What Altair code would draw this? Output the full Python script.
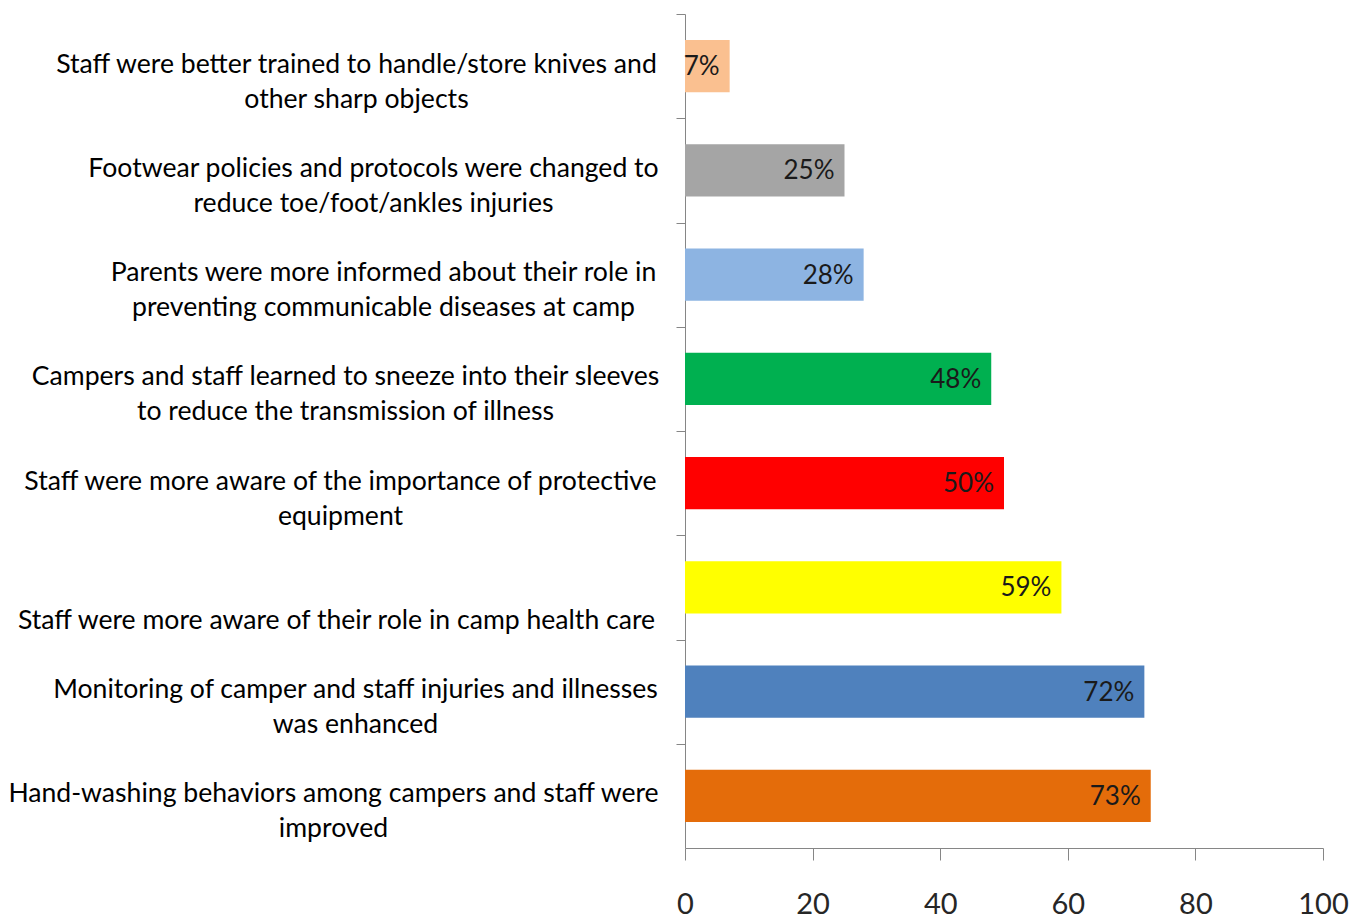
import altair as alt
import pandas as pd

# ---- data (top to bottom) ----
categories = [
    "Staff were better trained to handle/store knives and|other sharp objects",
    "Footwear policies and protocols were changed to|reduce toe/foot/ankles injuries",
    "Parents were more informed about their role in|preventing communicable diseases at camp",
    "Campers and staff learned to sneeze into their sleeves|to reduce the transmission of illness",
    "Staff were more aware of the importance of protective|equipment",
    "|Staff were more aware of their role in camp health care",
    "Monitoring of camper and staff injuries and illnesses|was enhanced",
    "Hand-washing behaviors among campers and staff were|improved",
]
values = [7, 25, 28, 48, 50, 59, 72, 73]
value_labels = ["7%", "25%", "28%", "48%", "50%", "59%", "72%", "73%"]
x_ticks = [0, 20, 40, 60, 80, 100]

# ---- styles ----
bar_colors = ["#FAC090", "#A5A5A5", "#8DB4E2", "#00B050", "#FF0000", "#FFFF00", "#4F81BD", "#E46C0A"]
label_center_gap = [320, 303, 293, 331, 336, 340, 321, 343]  # distance of each label block centre from tick end

df = pd.DataFrame({"category": categories, "value": values, "label": value_labels})

FONT = "Lato"
AXIS_GRAY = "#868686"
HALF_STEP = 834 / 8 / 2

cat_js = "[" + ",".join("'" + c.replace("'", "\\'") + "'" for c in categories) + "]"
gap_js = "[" + ",".join(str(g) for g in label_center_gap) + "]"

y_enc = alt.Y(
    "category:N",
    sort=categories,
    scale=alt.Scale(paddingInner=0.5, paddingOuter=0.25),
    axis=alt.Axis(
        title=None,
        labelExpr="split(datum.label, '|')",
        labelFont=FONT,
        labelFontSize=26.6,
        labelLineHeight=35,
        labelColor="#000000",
        labelAlign="center",
        labelBaseline="middle",
        labelPadding=alt.ExprRef(expr=f"{gap_js}[indexof({cat_js}, datum.value)]"),
        tickOffset=-HALF_STEP,
        labelOffset=HALF_STEP - 2,
        labelLimit=0,
        tickSize=9,
        tickColor=AXIS_GRAY,
        domainColor=AXIS_GRAY,
        grid=False,
    ),
)

x_enc = alt.X(
    "value:Q",
    scale=alt.Scale(domain=[0, 100], nice=False),
    axis=alt.Axis(
        title=None,
        values=x_ticks,
        labelFont=FONT,
        labelFontSize=29,
        labelColor="#262626",
        labelPadding=30,
        tickSize=12,
        tickColor=AXIS_GRAY,
        domainColor=AXIS_GRAY,
        grid=False,
        labelFlush=False,
    ),
)

bars = alt.Chart(df).mark_bar().encode(
    x=x_enc,
    y=y_enc,
    color=alt.Color("category:N", scale=alt.Scale(domain=categories, range=bar_colors), legend=None),
)

texts = alt.Chart(df).mark_text(
    align="right", baseline="middle", dx=-10, dy=1, font=FONT, fontSize=26, color="#1a1a1a"
).encode(
    x=alt.X("value:Q"),
    y=alt.Y("category:N", sort=categories),
    text="label:N",
)

chart = (
    alt.layer(bars, texts)
    .properties(
        width=638,
        height=834,
        autosize=alt.AutoSizeParams(type="none"),
        padding={"left": 677, "top": 6, "right": 28, "bottom": 71},
    )
    .configure(background="white", view=alt.ViewConfig(stroke=None))
)

chart.save("out.html", embed_options={"renderer": "svg", "actions": False})
